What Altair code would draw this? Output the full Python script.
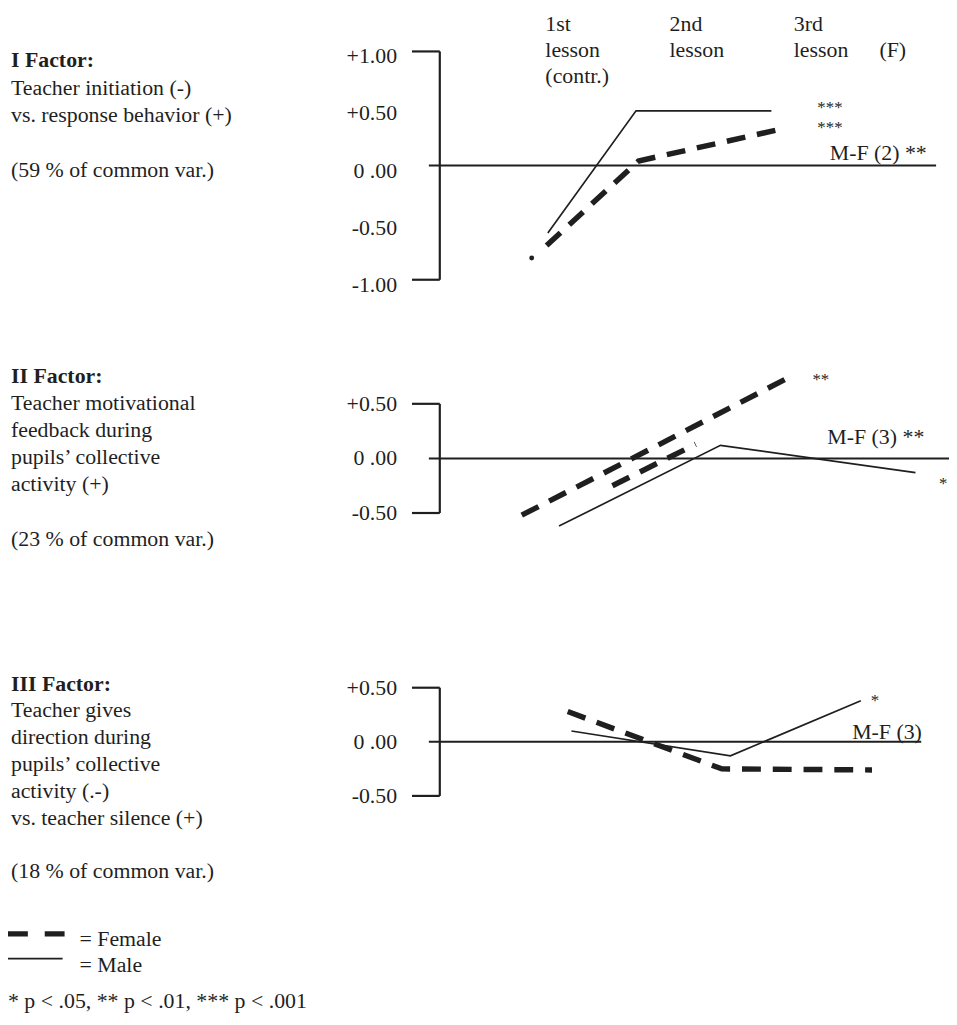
import altair as alt
import pandas as pd

FONT = "Liberation Serif"
INK = "#1f1f1f"
FS = 22

# ---------------- data (x = lesson position, y = factor score) ----------------
lesson_pos = [1, 2, 3]
lesson_head = [["1st", "lesson", "(contr.)"], ["2nd", "lesson"], ["3rd", "lesson"]]
f_label_pos = 3.69
f_label = "(F)"

# Factor I
f1_male_x = [1.02, 1.73, 2.82]
f1_male_y = [-0.59, 0.48, 0.48]
f1_female_x = [1.01, 1.75, 2.94]
f1_female_y = [-0.70, 0.04, 0.33]
f1_female_dot_x = [0.89]
f1_female_dot_y = [-0.81]

# Factor II
f2_male_x = [1.11, 2.41, 3.98]
f2_male_y = [-0.62, 0.12, -0.13]
f2_female_x = [0.81, 1.70, 2.94]
f2_female_y = [-0.52, 0.00, 0.73]
f2_female_b_x = [1.54, 2.21]
f2_female_b_y = [-0.25, 0.13]

# Factor III
f3_male_x = [1.21, 2.49, 3.54]
f3_male_y = [0.10, -0.13, 0.38]
f3_female_x = [1.18, 2.42, 3.63]
f3_female_y = [0.28, -0.25, -0.26]

# axis labels
f1_ticks = [1.0, 0.5, 0.0, -0.5, -1.0]
f1_tick_text = ["+1.00", "+0.50", "0 .00", "-0.50", "-1.00"]
f23_ticks = [0.5, 0.0, -0.5]
f23_tick_text = ["+0.50", "0 .00", "-0.50"]

# significance annotations
f1_notes = ["***\n***", "M-F (2) **"]
f1_notes_x = [3.19, 3.29]
f1_notes_y = [0.54, 0.11]
f2_notes = ["**", "M-F (3) **", "*"]
f2_notes_x = [3.15, 3.27, 4.17]
f2_notes_y = [0.75, 0.20, -0.20]
f3_notes = ["*", "M-F (3)"]
f3_notes_x = [3.62, 3.47]
f3_notes_y = [0.41, 0.09]

# left-hand descriptions
f1_text = ["I Factor:", "Teacher initiation (-)", "vs. response  behavior (+)", "", "(59 % of common var.)"]
f2_text = ["II Factor:", "Teacher motivational", "feedback during", "pupils\u2019 collective",
           "activity (+)", "", "(23 % of common var.)"]
f3_text = ["III Factor:", "Teacher gives", "direction during", "pupils\u2019 collective",
           "activity (.-)", "vs. teacher silence (+)", "", "(18 % of common var.)"]
legend_text = ["= Female", "= Male"]
footnote = "* p < .05, ** p < .01, *** p < .001"

# ---------------- layout (page pixels) ----------------
OX, OY = 443, 48          # plot origin on the page
W, H = 513, 750
XDOM = [0.15, 4.25]
xs = alt.Scale(domain=XDOM, nice=False, zero=False)


def ys(dom, top, bottom):
    return alt.Scale(domain=dom, range=[bottom - OY, top - OY], nice=False, zero=False)


def is_stars(s):
    return set(s.replace("\n", "")) == {"*"}


def panel(dom, top, bottom, zero_end, ticks, tick_text, tick_dy, male, females, notes, dot=None):
    sc = ys(dom, top, bottom)
    X = lambda f: alt.X(f, type="quantitative", scale=xs, axis=None)
    Y = lambda f: alt.Y(f, type="quantitative", scale=sc, axis=None)
    layers = []
    # zero line
    layers.append(alt.Chart(pd.DataFrame({"y": [0.0]})).mark_rule(color=INK, strokeWidth=2).encode(
        x=alt.value(-11), x2=alt.value(zero_end - OX), y=Y("y")))
    # bracket axis
    layers.append(alt.Chart(pd.DataFrame({"y": [dom[0]], "y2": [dom[1]]})).mark_rule(
        color=INK, strokeWidth=2.2).encode(x=alt.value(0), y=Y("y"), y2="y2"))
    layers.append(alt.Chart(pd.DataFrame({"y": [dom[0], dom[1]]})).mark_rule(
        color=INK, strokeWidth=2.2).encode(x=alt.value(-28), x2=alt.value(0), y=Y("y")))
    # tick labels
    layers.append(alt.Chart(pd.DataFrame({"v": ticks, "t": tick_text})).mark_text(
        align="right", baseline="middle", font=FONT, fontSize=FS, color=INK, dy=tick_dy).encode(
        x=alt.value(-43), y=Y("v"), text="t:N"))
    # female (dashed, thick)
    fem_rows = []
    for k, (fx, fy) in enumerate(females):
        for a, b in zip(fx, fy):
            fem_rows.append({"x": a, "y": b, "seg": k})
    layers.append(alt.Chart(pd.DataFrame(fem_rows)).mark_line(
        color=INK, strokeWidth=5.5, strokeDash=[19, 12], strokeCap="butt").encode(
        x=X("x"), y=Y("y"), detail="seg:N"))
    # male (thin solid)
    layers.append(alt.Chart(pd.DataFrame({"x": male[0], "y": male[1]})).mark_line(
        color=INK, strokeWidth=1.7).encode(x=X("x"), y=Y("y")))
    if dot is not None:
        layers.append(alt.Chart(pd.DataFrame({"x": dot[0], "y": dot[1]})).mark_circle(
            color=INK, size=24, opacity=1).encode(x=X("x"), y=Y("y")))
    # annotations (stars sit high in the em box -> nudge down)
    nt, nx, ny = notes
    df = pd.DataFrame({"x": nx, "y": ny, "t": nt})
    mask = df["t"].apply(is_stars)
    stars, words = df[mask], df[~mask]
    if len(stars):
        layers.append(alt.Chart(stars).mark_text(
            align="left", baseline="middle", font=FONT, fontSize=17, lineHeight=20,
            lineBreak="\n", color=INK, dy=4).encode(
            x=X("x"), y=Y("y"), text="t:N"))
    if len(words):
        layers.append(alt.Chart(words).mark_text(
            align="left", baseline="middle", font=FONT, fontSize=FS, color=INK).encode(
            x=X("x"), y=Y("y"), text="t:N"))
    return alt.layer(*layers)


p1 = panel([-1.0, 1.0], 48, 278, 943, f1_ticks, f1_tick_text, 5,
           (f1_male_x, f1_male_y), [(f1_female_x, f1_female_y)],
           (f1_notes, f1_notes_x, f1_notes_y), dot=(f1_female_dot_x, f1_female_dot_y))
p2 = panel([-0.5, 0.5], 403, 513, 957, f23_ticks, f23_tick_text, 0,
           (f2_male_x, f2_male_y), [(f2_female_x, f2_female_y), (f2_female_b_x, f2_female_b_y)],
           (f2_notes, f2_notes_x, f2_notes_y))
p3 = panel([-0.5, 0.5], 689, 798, 928, f23_ticks, f23_tick_text, 0,
           (f3_male_x, f3_male_y), [(f3_female_x, f3_female_y)],
           (f3_notes, f3_notes_x, f3_notes_y))

# header above panel I
head_rows = []
for pos, lines in zip(lesson_pos, lesson_head):
    for i, t in enumerate(lines):
        head_rows.append({"x": pos, "py": 20 + 26.5 * i - OY, "t": t})
head_rows.append({"x": f_label_pos, "py": 20 + 26.5 - OY, "t": f_label})
header = alt.Chart(pd.DataFrame(head_rows)).mark_text(
    align="left", baseline="middle", font=FONT, fontSize=FS, color=INK).encode(
    x=alt.X("x:Q", scale=xs, axis=None), y=alt.Y("py:Q", scale=None), text="t:N")

# left descriptions
desc_rows = []
for lines, start, step in [(f1_text, 57, 27.5), (f2_text, 375, 27.3), (f3_text, 685, 27.0)]:
    for i, t in enumerate(lines):
        if t:
            desc_rows.append({"px": 11 - OX, "py": start + step * i - OY, "t": t, "b": i == 0})
desc_df = pd.DataFrame(desc_rows)
desc_bold = alt.Chart(desc_df[desc_df["b"]]).mark_text(
    align="left", baseline="middle", font=FONT, fontSize=FS, fontWeight="bold", color=INK).encode(
    x=alt.X("px:Q", scale=None), y=alt.Y("py:Q", scale=None), text="t:N")
desc_reg = alt.Chart(desc_df[~desc_df["b"]]).mark_text(
    align="left", baseline="middle", font=FONT, fontSize=FS, color=INK).encode(
    x=alt.X("px:Q", scale=None), y=alt.Y("py:Q", scale=None), text="t:N")

# legend + footnote
leg_text = alt.Chart(pd.DataFrame({"t": legend_text + [footnote],
                                   "px": [80 - OX, 80 - OX, 8 - OX],
                                   "py": [942 - OY, 968 - OY, 1005 - OY]})).mark_text(
    align="left", baseline="middle", font=FONT, fontSize=FS, color=INK).encode(
    x=alt.X("px:Q", scale=None), y=alt.Y("py:Q", scale=None), text="t:N")
leg_f = alt.Chart(pd.DataFrame({"k": ["Female"]})).mark_rule(
    color=INK, strokeWidth=5.5, strokeDash=[20, 17], strokeCap="butt").encode(
    x=alt.value(8 - OX), x2=alt.value(65 - OX), y=alt.value(937 - OY))
leg_m = alt.Chart(pd.DataFrame({"k": ["Male"]})).mark_rule(color=INK, strokeWidth=1.8).encode(
    x=alt.value(8 - OX), x2=alt.value(63 - OX), y=alt.value(962 - OY))

chart = alt.layer(p1, p2, p3, header, desc_bold, desc_reg, leg_text, leg_f, leg_m).resolve_scale(
    y="independent").properties(
    width=W, height=H,
    autosize=alt.AutoSizeParams(type="none"),
    padding={"left": OX - 8, "top": OY - 8, "right": 0, "bottom": 222},
    background="white",
).configure_view(stroke=None)

chart.save("out.html", embed_options={"renderer": "svg", "actions": False})
